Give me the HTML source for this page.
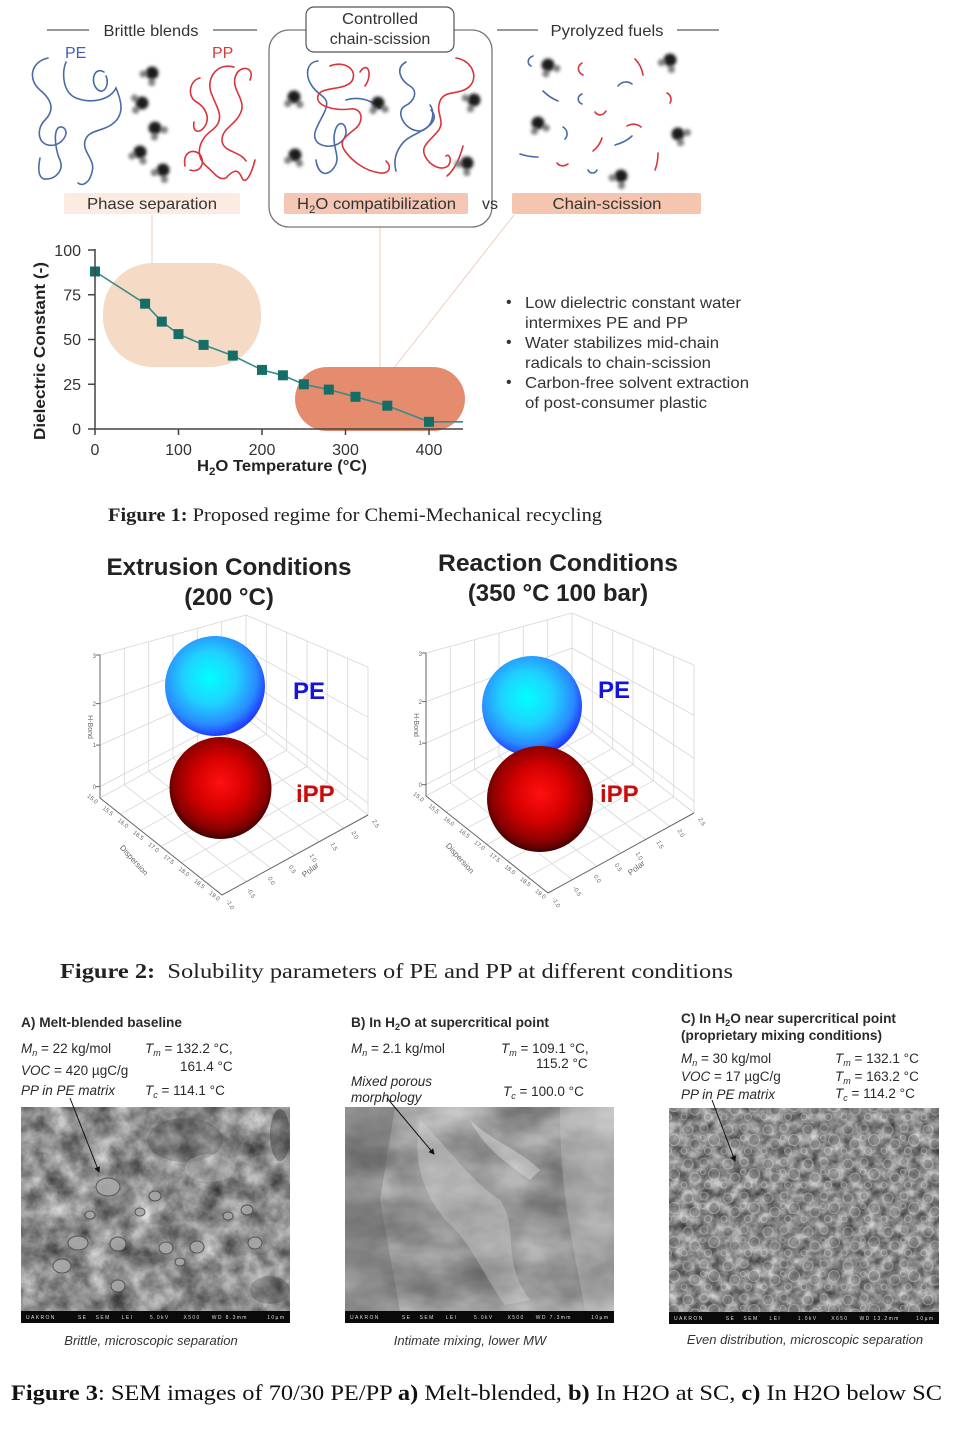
<!DOCTYPE html>
<html><head><meta charset="utf-8"><style>html,body{margin:0;padding:0;background:#fff}svg{display:block}</style></head>
<body>
<svg width="960" height="1440" viewBox="0 0 960 1440" xmlns="http://www.w3.org/2000/svg" xmlns:xlink="http://www.w3.org/1999/xlink" font-family="'Liberation Sans', sans-serif">
<defs>
  <filter id="bl" x="-50%" y="-50%" width="200%" height="200%"><feGaussianBlur stdDeviation="1.6"/></filter>
  <g id="mol"><circle cx="0" cy="0" r="6.5" fill="#1e1e1e"/><circle cx="-8" cy="4" r="3.6" fill="#808080"/><circle cx="3" cy="9" r="3.6" fill="#808080"/></g>
  <radialGradient id="gPE" cx="0.45" cy="0.42" r="0.58">
    <stop offset="0" stop-color="#00ffff"/><stop offset="0.45" stop-color="#1fd2ff"/><stop offset="0.8" stop-color="#2a8cff"/><stop offset="1" stop-color="#1f3cff"/>
  </radialGradient>
  <radialGradient id="gPP" cx="0.5" cy="0.45" r="0.58">
    <stop offset="0" stop-color="#ff1010"/><stop offset="0.45" stop-color="#d40000"/><stop offset="0.78" stop-color="#8c0000"/><stop offset="1" stop-color="#2a0000"/>
  </radialGradient>
  <filter id="fA" x="0" y="0" width="1" height="1" color-interpolation-filters="sRGB">
    <feTurbulence type="fractalNoise" baseFrequency="0.045" numOctaves="4" seed="7"/>
    <feColorMatrix type="matrix" values="1 0 0 0 0 1 0 0 0 0 1 0 0 0 0 0 0 0 0 1"/>
    <feComponentTransfer><feFuncR type="linear" slope="0.8" intercept="0.15"/><feFuncG type="linear" slope="0.8" intercept="0.15"/><feFuncB type="linear" slope="0.8" intercept="0.15"/></feComponentTransfer>
  </filter>
  <filter id="fB" x="0" y="0" width="1" height="1" color-interpolation-filters="sRGB">
    <feTurbulence type="fractalNoise" baseFrequency="0.012 0.02" numOctaves="4" seed="3"/>
    <feColorMatrix type="matrix" values="1 0 0 0 0 1 0 0 0 0 1 0 0 0 0 0 0 0 0 1"/>
    <feComponentTransfer><feFuncR type="linear" slope="0.55" intercept="0.32"/><feFuncG type="linear" slope="0.55" intercept="0.32"/><feFuncB type="linear" slope="0.55" intercept="0.32"/></feComponentTransfer>
  </filter>
  <filter id="fC" x="0" y="0" width="1" height="1" color-interpolation-filters="sRGB">
    <feTurbulence type="fractalNoise" baseFrequency="0.09" numOctaves="3" seed="11"/>
    <feColorMatrix type="matrix" values="1 0 0 0 0 1 0 0 0 0 1 0 0 0 0 0 0 0 0 1"/>
    <feComponentTransfer><feFuncR type="linear" slope="0.8" intercept="0.14"/><feFuncG type="linear" slope="0.8" intercept="0.14"/><feFuncB type="linear" slope="0.8" intercept="0.14"/></feComponentTransfer>
  </filter>
  <pattern id="bub" width="40" height="34" patternUnits="userSpaceOnUse">
    <g fill="#7a7a7a" stroke="#c8c8c8" stroke-width="1.1">
      <circle cx="8" cy="8" r="5"/><circle cx="24" cy="6" r="4"/><circle cx="34" cy="18" r="5.5"/><circle cx="15" cy="22" r="5"/><circle cx="28" cy="29" r="3.5"/><circle cx="4" cy="29" r="3"/><circle cx="23" cy="16" r="2.5"/>
    </g>
  </pattern>
  <marker id="ah" markerWidth="6" markerHeight="6" refX="5" refY="3" orient="auto"><path d="M0,0 L6,3 L0,6 z" fill="#111"/></marker>
  <g id="grid3d" fill="none">
    <g stroke="#d6d6d6" stroke-width="0.8">
      <path d="M100,786.6 L246,709.8 M100,745.1 L246,679.9 M100,703.6 L246,650 M100,655 L246,615"/>
      <path d="M124.3,784.7 L124.3,648.3 M148.7,771.3 L148.7,641.7 M173,758 L173,635 M197.3,744.7 L197.3,628.3 M221.7,731.3 L221.7,621.7 M246,718 L246,615"/>
      <path d="M246,709.8 L368,803.2 M246,679.9 L368,760.2 M246,650 L368,717.3 M246,615 L368,667"/>
      <path d="M266.3,734.2 L266.3,623.7 M286.7,750.3 L286.7,632.3 M307,766.5 L307,641 M327.3,782.7 L327.3,649.7 M347.7,798.8 L347.7,658.3 M368,815 L368,667"/>
      <path d="M124.3,784.7 L246.3,881.7 M148.7,771.3 L270.7,868.3 M173,758 L295,855 M197.3,744.7 L319.3,841.7 M221.7,731.3 L343.7,828.3 M100,798 L246,718 L368,815"/>
      <path d="M120.3,814.2 L266.3,734.2 M140.7,830.3 L286.7,750.3 M161,846.5 L307,766.5 M181.3,862.7 L327.3,782.7 M201.7,878.8 L347.7,798.8"/>
    </g>
    <g stroke="#666" stroke-width="1">
      <path d="M100,655 L100,798 L222,895 L368,815"/>
      <path d="M100,655 L96,655 M100,703.6 L96,703.6 M100,745.1 L96,745.1 M100,786.6 L96,786.6"/>
    </g>
  </g>
</defs>
<rect width="960" height="1440" fill="#fff"/>

<!-- ===== TOP SCHEMATIC ===== -->
<g fill="#333" font-size="16">
  <text x="151" y="36" text-anchor="middle" textLength="95" lengthAdjust="spacingAndGlyphs">Brittle blends</text>
  <text x="607" y="36" text-anchor="middle" textLength="113" lengthAdjust="spacingAndGlyphs">Pyrolyzed fuels</text>
</g>
<g stroke="#333" stroke-width="1">
  <line x1="47" y1="30" x2="89" y2="30"/><line x1="213" y1="30" x2="257" y2="30"/>
  <line x1="497" y1="30" x2="538" y2="30"/><line x1="677" y1="30" x2="719" y2="30"/>
</g>
<text x="65" y="58" font-size="16" fill="#3d5fb5">PE</text>
<text x="212" y="58" font-size="16" fill="#d8383a">PP</text>

<g stroke="#efcdbd" stroke-width="1" fill="none">
  <line x1="152" y1="215" x2="152" y2="264"/>
  <line x1="380" y1="227" x2="380" y2="368"/>
  <line x1="514" y1="215" x2="394" y2="368"/>
</g>

<rect x="269" y="30" width="223" height="197" rx="20" fill="none" stroke="#777" stroke-width="1.3"/>
<rect x="306" y="7" width="148" height="45" rx="8" fill="#fff" stroke="#555" stroke-width="1.2"/>
<g fill="#333" font-size="16" text-anchor="middle">
  <text x="380" y="24" textLength="76" lengthAdjust="spacingAndGlyphs">Controlled</text>
  <text x="380" y="44">chain-scission</text>
</g>

<g fill="none" stroke-width="1.6" stroke-linecap="round">
  <g stroke="#4a6aa8">
    <path d="M48,58 C30,62 28,80 40,90 C52,100 55,110 45,120 C35,130 38,148 55,145 C65,142 70,130 62,127 C52,125 55,150 60,160 C64,170 56,180 44,179 C38,177 38,168 40,158"/>
    <path d="M66,62 C62,72 62,92 76,98 C92,104 110,100 116,88 C121,100 126,115 111,125 C100,132 88,130 85,141 C82,152 96,160 92,172 C90,182 83,187 78,183"/>
    <path d="M104,72 C94,66 90,82 97,89 C104,96 110,84 106,76"/>
  </g>
  <g stroke="#d9343c">
    <path d="M234,67 C216,62 205,80 212,95 C218,110 226,120 211,131 C199,140 195,155 205,165 C214,172 218,181 226,178 C233,170 238,168 242,178 C246,186 252,172 255,160"/>
    <path d="M250,80 C256,66 238,64 235,78 C232,90 246,100 241,112 C236,125 222,128 222,140 C222,152 240,151 246,161"/>
    <path d="M200,78 C190,80 187,95 195,101 C204,106 211,116 205,126 C200,134 192,133 194,122"/>
    <path d="M185,166 C182,150 196,148 201,156 C205,164 200,173 190,170"/>
  </g>
</g>
<g fill="none" stroke-width="1.6" stroke-linecap="round">
  <g stroke="#4a6aa8">
    <path d="M318,61 C306,62 305,76 312,86 C320,98 331,96 325,111 C318,126 310,135 318,143 C330,151 346,143 346,132 C346,122 338,120 335,131 C331,146 341,156 335,166 C328,178 318,175 316,160"/>
    <path d="M406,62 C395,68 400,80 410,86 C418,91 415,101 405,106 C395,111 404,131 420,131 C432,129 436,113 430,105"/>
    <path d="M396,171 C392,156 400,142 412,136 C426,129 441,121 431,110"/>
    <path d="M346,100 C358,96 372,100 380,108"/>
  </g>
  <g stroke="#d9343c">
    <path d="M330,66 C345,60 358,70 352,81 C345,91 320,86 318,96 C315,106 335,111 350,109 C362,107 365,121 355,129 C345,137 338,141 345,151 C352,161 365,171 380,173 C390,174 392,166 386,161"/>
    <path d="M360,72 C368,60 373,75 365,86"/>
    <path d="M456,58 C471,60 479,76 470,86 C460,96 445,89 440,101 C435,113 446,121 438,131 C430,141 420,146 425,156 C430,166 441,171 448,166 C452,161 450,153 446,156"/>
    <path d="M463,146 C459,161 453,171 447,176"/>
  </g>
</g>
<g fill="none" stroke-width="1.6" stroke-linecap="round">
  <g stroke="#4a6aa8">
    <path d="M533,56 C527,58 527,64 531,66"/>
    <path d="M543,91 C548,96 553,99 558,101"/>
    <path d="M582,94 C577,96 577,102 582,104"/>
    <path d="M618,86 C622,81 628,81 632,84"/>
    <path d="M563,127 C568,130 568,136 565,139"/>
    <path d="M520,154 C526,156 532,157 538,157"/>
    <path d="M588,170 C590,174 595,174 597,170"/>
    <path d="M615,145 C622,143 628,140 632,136"/>
  </g>
  <g stroke="#d9343c">
    <path d="M582,63 C577,66 577,72 583,75"/>
    <path d="M635,59 C639,63 642,69 643,75"/>
    <path d="M667,93 C671,95 672,100 670,103"/>
    <path d="M595,112 C598,116 603,116 606,111"/>
    <path d="M627,126 C632,123 638,124 641,127"/>
    <path d="M602,138 C600,144 597,148 593,151"/>
    <path d="M557,163 C559,166 564,167 568,164"/>
    <path d="M658,153 C658,160 657,165 655,170"/>
  </g>
</g>
<g filter="url(#bl)">
  <use xlink:href="#mol" transform="translate(152,73) rotate(20)"/>
  <use xlink:href="#mol" transform="translate(142,103) rotate(60)"/>
  <use xlink:href="#mol" transform="translate(155,128) rotate(-60)"/>
  <use xlink:href="#mol" transform="translate(140,152) rotate(0)"/>
  <use xlink:href="#mol" transform="translate(163,170) rotate(10)"/>
  <use xlink:href="#mol" transform="translate(294,97) rotate(-20)"/>
  <use xlink:href="#mol" transform="translate(378,103) rotate(-30)"/>
  <use xlink:href="#mol" transform="translate(474,100) rotate(40)"/>
  <use xlink:href="#mol" transform="translate(295,155) rotate(-10)"/>
  <use xlink:href="#mol" transform="translate(467,163) rotate(20)"/>
  <use xlink:href="#mol" transform="translate(548,65) rotate(-50)"/>
  <use xlink:href="#mol" transform="translate(670,60) rotate(10)"/>
  <use xlink:href="#mol" transform="translate(538,123) rotate(-40)"/>
  <use xlink:href="#mol" transform="translate(678,134) rotate(-80)"/>
  <use xlink:href="#mol" transform="translate(621,176) rotate(15)"/>
</g>

<rect x="64" y="193" width="176" height="21" rx="2" fill="#fcebe0"/>
<rect x="284" y="193" width="184" height="21" rx="2" fill="#f6c6b4"/>
<rect x="512" y="193" width="189" height="21" rx="2" fill="#f6c5af"/>
<g fill="#333" font-size="16">
  <text x="152" y="209" text-anchor="middle" textLength="130" lengthAdjust="spacingAndGlyphs">Phase separation</text>
  <text x="297" y="209" textLength="159" lengthAdjust="spacingAndGlyphs">H<tspan font-size="11" dy="4">2</tspan><tspan dy="-4">O compatibilization</tspan></text>
  <text x="482" y="209">vs</text>
  <text x="607" y="209" text-anchor="middle" textLength="109" lengthAdjust="spacingAndGlyphs">Chain-scission</text>
</g>

<!-- ===== CHART ===== -->
<rect x="103" y="263" width="158" height="104" rx="50" fill="#f5dac6"/>
<rect x="295" y="367" width="170" height="64" rx="32" fill="#e68c6e"/>
<polyline fill="none" stroke="#3b8a86" stroke-width="1.6" points="95,271.5 145.1,303.7 161.8,321.6 178.5,334.1 203.6,344.9 232.8,355.6 262,369.9 282.9,375.3 303.8,384.3 328.8,389.6 355.5,396.8 387.3,405.7 429,421.8 463,421.8"/>
<g fill="#146d67">
  <rect x="90" y="266.5" width="10" height="10"/>
  <rect x="140.1" y="298.7" width="10" height="10"/>
  <rect x="156.8" y="316.6" width="10" height="10"/>
  <rect x="173.5" y="329.1" width="10" height="10"/>
  <rect x="198.6" y="339.9" width="10" height="10"/>
  <rect x="227.8" y="350.6" width="10" height="10"/>
  <rect x="257" y="364.9" width="10" height="10"/>
  <rect x="277.9" y="370.3" width="10" height="10"/>
  <rect x="298.8" y="379.3" width="10" height="10"/>
  <rect x="323.8" y="384.6" width="10" height="10"/>
  <rect x="350.5" y="391.8" width="10" height="10"/>
  <rect x="382.3" y="400.7" width="10" height="10"/>
  <rect x="424" y="416.8" width="10" height="10"/>
</g>
<g stroke="#444" stroke-width="1.5" fill="none">
  <path d="M95,249 L95,429 L463,429"/>
  <path d="M88,250 L95,250 M88,294.75 L95,294.75 M88,339.5 L95,339.5 M88,384.25 L95,384.25 M88,429 L95,429"/>
  <path d="M95,429 L95,435 M178.5,429 L178.5,435 M262,429 L262,435 M345.5,429 L345.5,435 M429,429 L429,435"/>
</g>
<g fill="#333" font-size="16">
  <g text-anchor="end">
    <text x="81" y="256">100</text><text x="81" y="300.5">75</text><text x="81" y="345">50</text><text x="81" y="390">25</text><text x="81" y="434.5">0</text>
  </g>
  <g text-anchor="middle">
    <text x="95" y="455">0</text><text x="178.5" y="455">100</text><text x="262" y="455">200</text><text x="345.5" y="455">300</text><text x="429" y="455">400</text>
  </g>
</g>
<text transform="translate(45,351) rotate(-90)" text-anchor="middle" font-size="16" font-weight="bold" fill="#222" textLength="178" lengthAdjust="spacingAndGlyphs">Dielectric Constant (-)</text>
<text x="197" y="471" font-size="16" font-weight="bold" fill="#222" textLength="170" lengthAdjust="spacingAndGlyphs">H<tspan font-size="11" dy="4">2</tspan><tspan dy="-4">O Temperature (°C)</tspan></text>

<g fill="#333" font-size="16">
  <text x="506" y="307">•</text><text x="506" y="347">•</text><text x="506" y="387">•</text>
  <text x="525" y="308" textLength="216" lengthAdjust="spacingAndGlyphs">Low dielectric constant water</text>
  <text x="525" y="328" textLength="163" lengthAdjust="spacingAndGlyphs">intermixes PE and PP</text>
  <text x="525" y="348" textLength="194" lengthAdjust="spacingAndGlyphs">Water stabilizes mid-chain</text>
  <text x="525" y="368" textLength="186" lengthAdjust="spacingAndGlyphs">radicals to chain-scission</text>
  <text x="525" y="388" textLength="224" lengthAdjust="spacingAndGlyphs">Carbon-free solvent extraction</text>
  <text x="525" y="408" textLength="182" lengthAdjust="spacingAndGlyphs">of post-consumer plastic</text>
</g>

<text x="108" y="521" font-family="'Liberation Serif', serif" font-size="19" fill="#222" textLength="494" lengthAdjust="spacingAndGlyphs"><tspan font-weight="bold">Figure 1:</tspan> Proposed regime for Chemi-Mechanical recycling</text>

<!-- ===== FIGURE 2 ===== -->
<g font-weight="bold" font-size="24" fill="#222" text-anchor="middle">
  <text x="229" y="575" textLength="245" lengthAdjust="spacingAndGlyphs">Extrusion Conditions</text>
  <text x="229" y="605">(200 °C)</text>
  <text x="558" y="571" textLength="240" lengthAdjust="spacingAndGlyphs">Reaction Conditions</text>
  <text x="558" y="601">(350 °C 100 bar)</text>
</g>

<use xlink:href="#grid3d"/>
<use xlink:href="#grid3d" transform="translate(326,-2)"/>

<g font-size="6" fill="#666">
  <g text-anchor="end"><text x="96" y="658">3</text><text x="96" y="706">2</text><text x="96" y="747">1</text><text x="96" y="789">0</text></g>
  <text transform="translate(88,727) rotate(90)" text-anchor="middle" font-size="7">H-Bond</text>
  <g text-anchor="end">
    <text transform="translate(96,804) rotate(38)">15.0</text>
    <text transform="translate(111.3,816.1) rotate(38)">15.5</text>
    <text transform="translate(126.5,828.3) rotate(38)">16.0</text>
    <text transform="translate(141.8,840.4) rotate(38)">16.5</text>
    <text transform="translate(157,852.5) rotate(38)">17.0</text>
    <text transform="translate(172.3,864.6) rotate(38)">17.5</text>
    <text transform="translate(187.5,876.8) rotate(38)">18.0</text>
    <text transform="translate(202.8,888.9) rotate(38)">18.5</text>
    <text transform="translate(218,901) rotate(38)">19.0</text>
  </g>
  <text transform="translate(132,862) rotate(48)" text-anchor="middle" font-size="8">Dispersion</text>
  <text transform="translate(226,901) rotate(60)">-1.0</text>
  <text transform="translate(246.9,889.6) rotate(60)">-0.5</text>
  <text transform="translate(267.7,878.1) rotate(60)">0.0</text>
  <text transform="translate(288.6,866.7) rotate(60)">0.5</text>
  <text transform="translate(309.4,855.3) rotate(60)">1.0</text>
  <text transform="translate(330.3,843.9) rotate(60)">1.5</text>
  <text transform="translate(351.2,832.4) rotate(60)">2.0</text>
  <text transform="translate(372,821) rotate(60)">2.5</text>
  <text transform="translate(312,872) rotate(-38)" text-anchor="middle" font-size="8">Polar</text>
</g>
<g font-size="6" fill="#666" transform="translate(326,-2)">
  <g text-anchor="end"><text x="96" y="658">3</text><text x="96" y="706">2</text><text x="96" y="747">1</text><text x="96" y="789">0</text></g>
  <text transform="translate(88,727) rotate(90)" text-anchor="middle" font-size="7">H-Bond</text>
  <g text-anchor="end">
    <text transform="translate(96,804) rotate(38)">15.0</text>
    <text transform="translate(111.3,816.1) rotate(38)">15.5</text>
    <text transform="translate(126.5,828.3) rotate(38)">16.0</text>
    <text transform="translate(141.8,840.4) rotate(38)">16.5</text>
    <text transform="translate(157,852.5) rotate(38)">17.0</text>
    <text transform="translate(172.3,864.6) rotate(38)">17.5</text>
    <text transform="translate(187.5,876.8) rotate(38)">18.0</text>
    <text transform="translate(202.8,888.9) rotate(38)">18.5</text>
    <text transform="translate(218,901) rotate(38)">19.0</text>
  </g>
  <text transform="translate(132,862) rotate(48)" text-anchor="middle" font-size="8">Dispersion</text>
  <text transform="translate(226,901) rotate(60)">-1.0</text>
  <text transform="translate(246.9,889.6) rotate(60)">-0.5</text>
  <text transform="translate(267.7,878.1) rotate(60)">0.0</text>
  <text transform="translate(288.6,866.7) rotate(60)">0.5</text>
  <text transform="translate(309.4,855.3) rotate(60)">1.0</text>
  <text transform="translate(330.3,843.9) rotate(60)">1.5</text>
  <text transform="translate(351.2,832.4) rotate(60)">2.0</text>
  <text transform="translate(372,821) rotate(60)">2.5</text>
  <text transform="translate(312,872) rotate(-38)" text-anchor="middle" font-size="8">Polar</text>
</g>

<circle cx="215" cy="686" r="50" fill="url(#gPE)"/>
<circle cx="220.5" cy="788" r="51" fill="url(#gPP)"/>
<circle cx="532" cy="706" r="50" fill="url(#gPE)"/>
<circle cx="540" cy="799" r="53" fill="url(#gPP)"/>
<g font-weight="bold" font-size="24">
  <text x="293" y="699" fill="#1414dc">PE</text>
  <text x="296" y="802" fill="#cc0a0a">iPP</text>
  <text x="598" y="698" fill="#1414dc">PE</text>
  <text x="600" y="802" fill="#cc0a0a">iPP</text>
</g>

<text x="60" y="978" font-family="'Liberation Serif', serif" font-size="21" fill="#222" textLength="673" lengthAdjust="spacingAndGlyphs" xml:space="preserve"><tspan font-weight="bold">Figure 2:</tspan>  Solubility parameters of PE and PP at different conditions</text>

<!-- ===== FIGURE 3 ===== -->
<g fill="#2a2a2a" font-size="13.5">
  <text x="21" y="1027" font-weight="bold" textLength="161" lengthAdjust="spacingAndGlyphs">A) Melt-blended baseline</text>
  <text x="21" y="1053"><tspan font-style="italic">M</tspan><tspan font-size="9" dy="3" font-style="italic">n</tspan><tspan dy="-3"> = 22 kg/mol</tspan></text>
  <text x="21" y="1075" font-style="italic">VOC<tspan font-style="normal"> = 420 µgC/g</tspan></text>
  <text x="21" y="1095" font-style="italic">PP in PE matrix</text>
  <text x="145" y="1053"><tspan font-style="italic">T</tspan><tspan font-size="9" dy="3" font-style="italic">m</tspan><tspan dy="-3"> = 132.2 °C,</tspan></text>
  <text x="180" y="1071">161.4 °C</text>
  <text x="145" y="1095"><tspan font-style="italic">T</tspan><tspan font-size="9" dy="3" font-style="italic">c</tspan><tspan dy="-3"> = 114.1 °C</tspan></text>

  <text x="351" y="1027" font-weight="bold" textLength="198" lengthAdjust="spacingAndGlyphs">B) In H<tspan font-size="9" dy="3">2</tspan><tspan dy="-3">O at supercritical point</tspan></text>
  <text x="351" y="1053"><tspan font-style="italic">M</tspan><tspan font-size="9" dy="3" font-style="italic">n</tspan><tspan dy="-3"> = 2.1 kg/mol</tspan></text>
  <text x="501" y="1053"><tspan font-style="italic">T</tspan><tspan font-size="9" dy="3" font-style="italic">m</tspan><tspan dy="-3"> = 109.1 °C,</tspan></text>
  <text x="536" y="1068">115.2 °C</text>
  <text x="351" y="1086" font-style="italic">Mixed porous</text>
  <text x="351" y="1102" font-style="italic">morphology</text>
  <text x="503" y="1096"><tspan font-style="italic">T</tspan><tspan font-size="9" dy="3" font-style="italic">c</tspan><tspan dy="-3"> = 100.0 °C</tspan></text>

  <text x="681" y="1023" font-weight="bold" textLength="215" lengthAdjust="spacingAndGlyphs">C) In H<tspan font-size="9" dy="3">2</tspan><tspan dy="-3">O near supercritical point</tspan></text>
  <text x="681" y="1040" font-weight="bold" textLength="201" lengthAdjust="spacingAndGlyphs">(proprietary mixing conditions)</text>
  <text x="681" y="1063"><tspan font-style="italic">M</tspan><tspan font-size="9" dy="3" font-style="italic">n</tspan><tspan dy="-3"> = 30 kg/mol</tspan></text>
  <text x="681" y="1081" font-style="italic">VOC<tspan font-style="normal"> = 17 µgC/g</tspan></text>
  <text x="681" y="1099" font-style="italic">PP in PE matrix</text>
  <text x="835" y="1063"><tspan font-style="italic">T</tspan><tspan font-size="9" dy="3" font-style="italic">m</tspan><tspan dy="-3"> = 132.1 °C</tspan></text>
  <text x="835" y="1081"><tspan font-style="italic">T</tspan><tspan font-size="9" dy="3" font-style="italic">m</tspan><tspan dy="-3"> = 163.2 °C</tspan></text>
  <text x="835" y="1098"><tspan font-style="italic">T</tspan><tspan font-size="9" dy="3" font-style="italic">c</tspan><tspan dy="-3"> = 114.2 °C</tspan></text>
</g>

<!-- SEM A -->
<rect x="21" y="1107" width="269" height="216" fill="#888" filter="url(#fA)"/>
<g>
  <ellipse cx="185" cy="1140" rx="38" ry="22" fill="#4a4a4a" opacity="0.3"/>
  <ellipse cx="280" cy="1135" rx="10" ry="26" fill="#2a2a2a" opacity="0.4"/>
  <ellipse cx="270" cy="1290" rx="20" ry="14" fill="#3a3a3a" opacity="0.3"/>
  <ellipse cx="210" cy="1168" rx="25" ry="14" fill="#cfcfcf" opacity="0.3"/>
  <g fill="#a8a8a8" stroke="#4a4a4a" stroke-width="1" opacity="0.85">
    <ellipse cx="108" cy="1187" rx="12" ry="9"/>
    <ellipse cx="78" cy="1243" rx="10" ry="7"/>
    <ellipse cx="118" cy="1244" rx="8" ry="7"/>
    <ellipse cx="62" cy="1266" rx="9" ry="7"/>
    <ellipse cx="140" cy="1212" rx="5" ry="4"/>
    <ellipse cx="166" cy="1248" rx="7" ry="6"/>
    <ellipse cx="197" cy="1247" rx="7" ry="6"/>
    <ellipse cx="255" cy="1243" rx="7" ry="6"/>
    <ellipse cx="247" cy="1210" rx="6" ry="5"/>
    <ellipse cx="228" cy="1216" rx="5" ry="4"/>
    <ellipse cx="118" cy="1286" rx="7" ry="6"/>
    <ellipse cx="180" cy="1262" rx="5" ry="4"/>
    <ellipse cx="155" cy="1196" rx="6" ry="5"/>
    <ellipse cx="90" cy="1215" rx="5" ry="4"/>
  </g>
</g>
<rect x="21" y="1311" width="269" height="12" fill="#0a0a0a"/>
<text x="26" y="1319" font-size="5" fill="#ddd" textLength="258" lengthAdjust="spacing" xml:space="preserve">UAKRON        SE   SEM    LEI      5.0kV     X500    WD 8.3mm       10µm</text>
<line x1="70" y1="1098" x2="99" y2="1172" stroke="#111" stroke-width="1" marker-end="url(#ah)"/>

<!-- SEM B -->
<rect x="345" y="1107" width="269" height="216" fill="#999" filter="url(#fB)"/>
<g opacity="0.3">
  <path d="M345,1107 L395,1107 L380,1200 L400,1311 L345,1311 Z" fill="#5a5a5a"/>
  <path d="M420,1120 C450,1150 470,1180 500,1200 C520,1230 500,1260 530,1300 L505,1305 C480,1270 470,1240 445,1220 C430,1200 410,1170 420,1120 Z" fill="#e0e0e0"/>
  <path d="M560,1107 L614,1107 L614,1311 L585,1311 C575,1250 560,1200 560,1107 Z" fill="#d0d0d0"/>
  <path d="M470,1120 C490,1140 520,1150 540,1170 L530,1180 C510,1165 485,1150 470,1120 Z" fill="#ffffff"/>
</g>
<rect x="345" y="1311" width="269" height="12" fill="#0a0a0a"/>
<text x="350" y="1319" font-size="5" fill="#ddd" textLength="258" lengthAdjust="spacing" xml:space="preserve">UAKRON        SE   SEM    LEI      5.0kV     X500    WD 7.3mm       10µm</text>
<line x1="387" y1="1098" x2="434" y2="1154" stroke="#111" stroke-width="1" marker-end="url(#ah)"/>

<!-- SEM C -->
<rect x="669" y="1108" width="270" height="216" fill="#888" filter="url(#fC)"/>
<rect x="669" y="1108" width="270" height="204" fill="url(#bub)" opacity="0.5"/>
<rect x="669" y="1312" width="270" height="12" fill="#0a0a0a"/>
<text x="674" y="1320" font-size="5" fill="#ddd" textLength="259" lengthAdjust="spacing" xml:space="preserve">UAKRON        SE   SEM    LEI      1.0kV     X650    WD 13.2mm      10µm</text>
<line x1="712" y1="1100" x2="735" y2="1161" stroke="#111" stroke-width="1" marker-end="url(#ah)"/>

<g font-size="13" font-style="italic" fill="#333" text-anchor="middle">
  <text x="151" y="1345">Brittle, microscopic separation</text>
  <text x="470" y="1345">Intimate mixing, lower MW</text>
  <text x="805" y="1344">Even distribution, microscopic separation</text>
</g>

<text x="11" y="1400" font-family="'Liberation Serif', serif" font-size="22" fill="#111" textLength="931" lengthAdjust="spacingAndGlyphs"><tspan font-weight="bold">Figure 3</tspan>: SEM images of 70/30 PE/PP <tspan font-weight="bold">a)</tspan> Melt-blended, <tspan font-weight="bold">b)</tspan> In H2O at SC, <tspan font-weight="bold">c)</tspan> In H2O below SC</text>
</svg>
</body></html>
